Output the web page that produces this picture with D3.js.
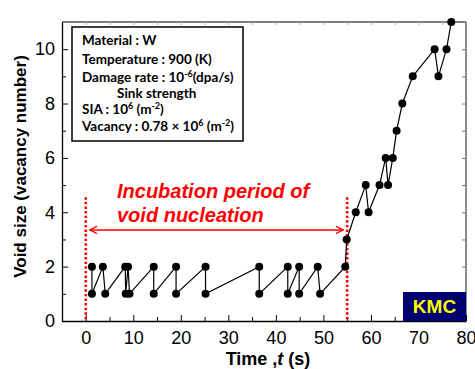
<!DOCTYPE html>
<html>
<head>
<meta charset="utf-8">
<script src="https://cdn.jsdelivr.net/npm/d3@7"></script>
<style>
  body { margin: 0; background: #fff; }
  svg { display: block; }
</style>
</head>
<body>
<svg id="chart"></svg>
<script>
// time (s) and void size (vacancy number)
const timeS = [1.3, 1.3, 3.6, 4.1, 8.3, 8.4, 8.9, 9.2, 14.3, 14.3, 19.0, 19.0, 25.2, 25.2,
  36.5, 36.5, 42.5, 42.5, 44.9, 44.9, 48.8, 49.3, 54.6,
  54.9, 56.8, 58.9, 59.5, 61.8, 63.1, 63.6, 64.6, 65.4, 66.6, 68.8, 73.4, 74.2, 75.9, 76.9];
const voidSize = [2, 1, 2, 1, 2, 1, 2, 1, 2, 1, 2, 1, 2, 1,
  2, 1, 2, 1, 2, 1, 2, 1, 2,
  3, 4, 5, 4, 5, 6, 5, 6, 7, 8, 9, 10, 9, 10, 11];

const xMajorTicks = [0, 10, 20, 30, 40, 50, 60, 70, 80];
const xMinorTicks = [5, 15, 25, 35, 45, 55, 65, 75];
const yMajorTicks = [0, 2, 4, 6, 8, 10];
const yMinorTicks = [1, 3, 5, 7, 9];

const incubation = [0, 55];        // start / end of incubation period (s)
const incubationTop = 4.55;         // top of dotted markers (void size units)
const arrowLevel = 3.35;

const conditions = [
  ['Material : W'],
  ['Temperature : 900 (K)'],
  ['Damage rate : 10', {sup: '-6'}, '(dpa/s)'],
  ['Sink strength'],
  ['SIA : 10', {sup: '6'}, ' (m', {sup: '-2'}, ')'],
  ['Vacancy : 0.78 × 10', {sup: '6'}, ' (m', {sup: '-2'}, ')']
];
const annotation = ['Incubation period of', 'void nucleation'];

const W = 475, H = 369;
const margin = {top: 22, right: 9, bottom: 48, left: 62};

const svg = d3.select('#chart').attr('width', W).attr('height', H);

const x = d3.scaleLinear().domain([-5, 80]).range([margin.left, W - margin.right]);
const y = d3.scaleLinear().domain([0, 11]).range([H - margin.bottom, margin.top]);

const tickFont = '"Liberation Sans", Arial, sans-serif';

// frame: top and right
svg.append('line')
  .attr('x1', x(-5)).attr('x2', x(80)).attr('y1', y(11)).attr('y2', y(11))
  .attr('stroke', '#000').attr('stroke-width', 1.2);
svg.append('line')
  .attr('x1', x(80)).attr('x2', x(80)).attr('y1', y(11)).attr('y2', y(0))
  .attr('stroke', '#666').attr('stroke-width', 1.5);

// mirrored ticks on right and top
svg.append('g')
  .attr('transform', `translate(${x(80)},0)`)
  .call(d3.axisRight(y).tickValues(d3.range(1, 11)).tickSize(-4).tickFormat(''))
  .call(g => g.select('.domain').remove())
  .call(g => g.selectAll('line').attr('stroke', '#777'));
svg.append('g')
  .attr('transform', `translate(0,${y(11)})`)
  .call(d3.axisTop(x).tickValues(d3.range(0, 80, 5)).tickSize(-3).tickFormat(''))
  .call(g => g.select('.domain').remove())
  .call(g => g.selectAll('line').attr('stroke', '#aaa'));

// bottom axis
svg.append('g')
  .attr('transform', `translate(0,${y(0)})`)
  .call(d3.axisBottom(x).tickValues(xMinorTicks).tickSize(-4).tickFormat(''))
  .call(g => g.select('.domain').remove());
const xAxis = svg.append('g')
  .attr('transform', `translate(0,${y(0)})`)
  .call(d3.axisBottom(x).tickValues(xMajorTicks).tickSizeInner(-6).tickSizeOuter(0).tickPadding(10));
xAxis.select('.domain').attr('stroke-width', 1.3);
xAxis.selectAll('text').attr('font-family', tickFont).attr('font-size', 18).attr('fill', '#000');

// left axis
svg.append('g')
  .attr('transform', `translate(${x(-5)},0)`)
  .call(d3.axisLeft(y).tickValues(yMinorTicks).tickSize(-4).tickFormat(''))
  .call(g => g.select('.domain').remove());
const yAxis = svg.append('g')
  .attr('transform', `translate(${x(-5)},0)`)
  .call(d3.axisLeft(y).tickValues(yMajorTicks).tickSizeInner(-6).tickSizeOuter(0).tickPadding(7));
yAxis.select('.domain').attr('stroke-width', 1.3);
yAxis.selectAll('text').attr('font-family', tickFont).attr('font-size', 18).attr('fill', '#000');

// axis titles
svg.append('text')
  .attr('transform', `translate(26,${(y(0) + y(11)) / 2 - 5}) rotate(-90)`)
  .attr('text-anchor', 'middle')
  .attr('font-family', tickFont).attr('font-weight', 'bold').attr('font-size', 17)
  .text('Void size (vacancy number)');

const xt = svg.append('text')
  .attr('x', (x(-5) + x(80)) / 2 + 4).attr('y', 365)
  .attr('text-anchor', 'middle')
  .attr('font-family', tickFont).attr('font-weight', 'bold').attr('font-size', 18);
xt.append('tspan').text('Time ,');
xt.append('tspan').attr('font-style', 'italic').text('t');
xt.append('tspan').text(' (s)');

// incubation markers
svg.selectAll('line.incub')
  .data(incubation)
  .enter()
  .append('line')
  .attr('class', 'incub')
  .attr('x1', d => x(d)).attr('x2', d => x(d))
  .attr('y1', y(incubationTop)).attr('y2', y(0))
  .attr('stroke', '#ff0000')
  .attr('stroke-width', 2.6)
  .attr('stroke-dasharray', '2.4,2.2');

// double arrow
const defs = svg.append('defs');
defs.append('marker')
  .attr('id', 'head')
  .attr('viewBox', '0 0 10 10')
  .attr('refX', 9).attr('refY', 5)
  .attr('markerWidth', 9).attr('markerHeight', 9)
  .attr('markerUnits', 'userSpaceOnUse')
  .attr('orient', 'auto-start-reverse')
  .append('path')
  .attr('d', 'M1,1 L9,5 L1,9')
  .attr('fill', 'none')
  .attr('stroke', '#ff0000')
  .attr('stroke-width', 1.6);
svg.append('line')
  .attr('x1', x(incubation[0]) + 4).attr('x2', x(incubation[1]) - 4)
  .attr('y1', y(arrowLevel)).attr('y2', y(arrowLevel))
  .attr('stroke', '#ff0000').attr('stroke-width', 1.6)
  .attr('marker-start', 'url(#head)')
  .attr('marker-end', 'url(#head)');

svg.selectAll('text.annot')
  .data(annotation)
  .enter()
  .append('text')
  .attr('class', 'annot')
  .attr('x', 117)
  .attr('y', (d, i) => 198 + i * 23.5)
  .attr('font-family', tickFont)
  .attr('font-weight', 'bold')
  .attr('font-style', 'italic')
  .attr('font-size', 20)
  .attr('fill', '#ff0000')
  .text(d => d);

// trace
const points = timeS.map((t, i) => ({t: t, v: voidSize[i]}));
const line = d3.line().x(d => x(d.t)).y(d => y(d.v));
svg.append('path')
  .datum(points)
  .attr('d', line)
  .attr('fill', 'none')
  .attr('stroke', '#000')
  .attr('stroke-width', 1.2);
svg.selectAll('circle')
  .data(points)
  .enter()
  .append('circle')
  .attr('cx', d => x(d.t))
  .attr('cy', d => y(d.v))
  .attr('r', 4)
  .attr('fill', '#000');

// conditions box
svg.append('rect')
  .attr('x', 72).attr('y', 27).attr('width', 171).attr('height', 114)
  .attr('fill', '#fff').attr('stroke', '#000').attr('stroke-width', 1.5);
const condFont = 'Lato, "Noto Sans", sans-serif';
const condY = [45, 63.5, 82, 97.5, 114, 131];
conditions.forEach((parts, i) => {
  const t = svg.append('text')
    .attr('x', i === 3 ? 117 : 82)
    .attr('y', condY[i])
    .attr('font-family', condFont)
    .attr('font-weight', 'bold')
    .attr('font-size', 13.5)
    .attr('fill', '#000');
  let shift = 0;
  parts.forEach(p => {
    if (typeof p === 'string') {
      t.append('tspan').attr('dy', -shift).text(p);
      shift = 0;
    } else {
      t.append('tspan').attr('font-size', 9).attr('dy', -5 - shift).text(p.sup);
      shift = -5;
    }
  });
});

// KMC label
svg.append('rect')
  .attr('x', x(80) - 63).attr('y', y(0) - 29).attr('width', 63).attr('height', 29)
  .attr('fill', '#000070');
svg.append('text')
  .attr('x', x(80) - 31.5).attr('y', y(0) - 8)
  .attr('text-anchor', 'middle')
  .attr('font-family', tickFont).attr('font-weight', 'bold').attr('font-size', 19)
  .attr('fill', '#ffff00')
  .text('KMC');
</script>
</body>
</html>
